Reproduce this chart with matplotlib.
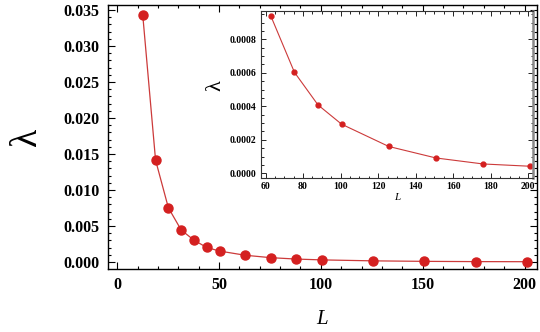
import matplotlib.pyplot as plt
from matplotlib.ticker import MultipleLocator, FormatStrFormatter

# L values and lambda values
L_main = [12.57, 18.85, 25.13, 31.42, 37.70, 43.98, 50.27, 62.83, 75.40,
          87.96, 100.53, 125.66, 150.80, 175.93, 201.06]
lam_main = [0.03427, 0.01415, 0.00754, 0.00445, 0.00303, 0.00202, 0.00152,
            0.000939, 0.000603, 0.000408, 0.000293, 0.000160, 0.0000913,
            0.0000555, 0.0000418]

L_inset = [62.83, 75.40, 87.96, 100.53, 125.66, 150.80, 175.93, 201.06]
lam_inset = [0.000939, 0.000603, 0.000408, 0.000293, 0.000160, 0.0000913,
             0.0000555, 0.0000418]

red = "#d42020"
line_red = "#cc3a3a"
serif = "Liberation Serif"

fig = plt.figure(figsize=(5.4, 3.32), dpi=100)

ax = fig.add_axes([0.2, 0.19, 0.794, 0.795])
ax.plot(L_main, lam_main, "-", color=line_red, lw=0.9)
ax.plot(L_main, lam_main, "o", color=red, ms=6.5, mec=red)
ax.set_xlim(-4.5, 206)
ax.set_ylim(-0.00096, 0.0357)
ax.xaxis.set_major_locator(MultipleLocator(50))
ax.xaxis.set_minor_locator(MultipleLocator(10))
ax.yaxis.set_major_locator(MultipleLocator(0.005))
ax.yaxis.set_minor_locator(MultipleLocator(0.001))
ax.yaxis.set_major_formatter(FormatStrFormatter("%.3f"))
ax.tick_params(which="both", direction="in", top=True, right=True, width=0.8)
ax.tick_params(which="major", length=5, labelsize=11.5, pad=6)
ax.tick_params(which="minor", length=2.5)
for lab in ax.get_xticklabels() + ax.get_yticklabels():
    lab.set_family(serif)
    lab.set_fontweight("bold")
for s in ax.spines.values():
    s.set_linewidth(1.0)
ax.set_xlabel("L", family=serif, style="italic", fontsize=15)
ax.xaxis.set_label_coords(0.5, -0.155)
ax.set_ylabel("λ", family=serif, fontsize=27)
ax.yaxis.set_label_coords(-0.15, 0.5)

ins = fig.add_axes([0.483, 0.464, 0.504, 0.503])
ins.plot(L_inset, lam_inset, "-", color=line_red, lw=0.8)
ins.plot(L_inset, lam_inset, "o", color=red, ms=3.5, mec=red)
ins.set_xlim(57.5, 202.5)
ins.set_ylim(-0.000028, 0.000969)
ins.xaxis.set_major_locator(MultipleLocator(20))
ins.xaxis.set_minor_locator(MultipleLocator(5))
ins.yaxis.set_major_locator(MultipleLocator(0.0002))
ins.yaxis.set_minor_locator(MultipleLocator(0.00005))
ins.yaxis.set_major_formatter(FormatStrFormatter("%.4f"))
ins.tick_params(which="both", direction="in", top=True, right=True, width=0.6)
ins.tick_params(which="major", length=3.5, labelsize=7, pad=3)
ins.tick_params(which="minor", length=1.8)
for lab in ins.get_xticklabels() + ins.get_yticklabels():
    lab.set_family(serif)
    lab.set_fontweight("bold")
for s in ins.spines.values():
    s.set_linewidth(0.8)
    s.set_color("#333333")
ins.spines["right"].set_linewidth(1.8)
ins.spines["right"].set_color("#888888")
ins.set_xlabel("L", family=serif, style="italic", fontsize=8)
ins.xaxis.set_label_coords(0.5, -0.09)
ins.set_ylabel("λ", family=serif, fontsize=16)
ins.yaxis.set_label_coords(-0.13, 0.55)

fig.savefig("out.png", dpi=100)
